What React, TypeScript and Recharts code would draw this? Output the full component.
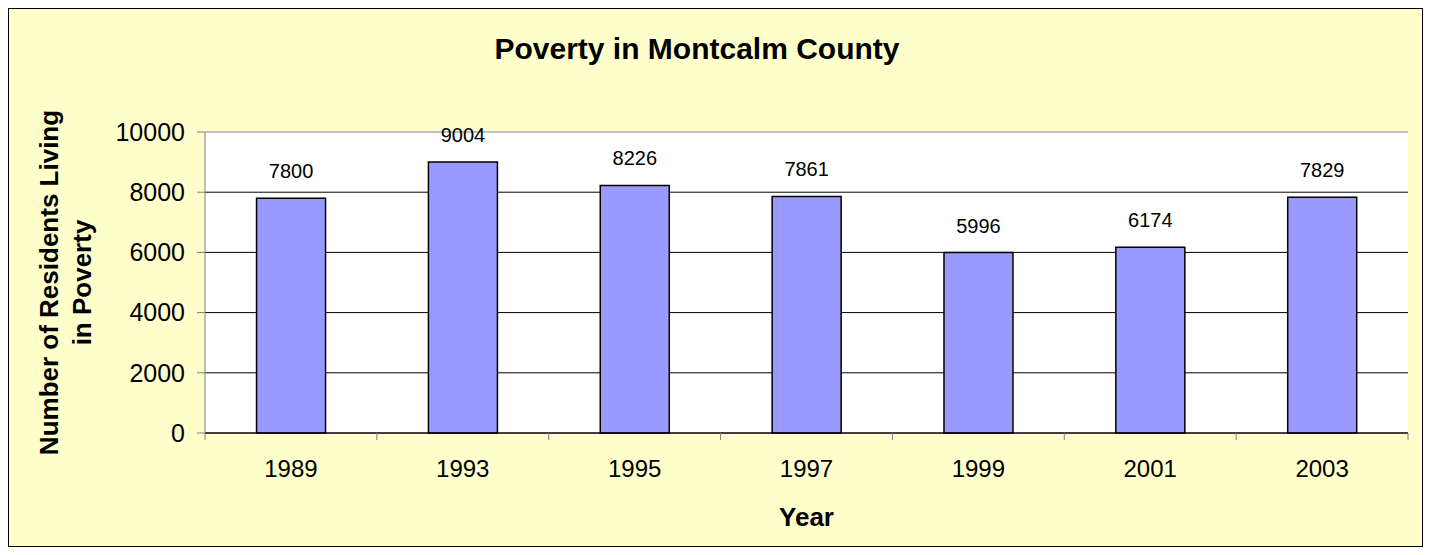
// Poverty in Montcalm County — bar chart with value labels on each bar.
import { BarChart, Bar, XAxis, YAxis, CartesianGrid, ReferenceLine, LabelList, Label } from 'recharts'

const YEARS = ['1989', '1993', '1995', '1997', '1999', '2001', '2003']
const RESIDENTS = [7800, 9004, 8226, 7861, 5996, 6174, 7829]
const Y_TICKS = [0, 2000, 4000, 6000, 8000, 10000]

const FONT = '"Liberation Sans", Arial, sans-serif'

const data = YEARS.map((year, i) => ({ year, value: RESIDENTS[i] }))

function YearTick(props: any) {
  const { x, y, payload, index, visibleTicksCount } = props
  const half = payload?.offset ?? 0
  return (
    <g>
      <line x1={x - half} x2={x - half} y1={y - 8} y2={y - 1} stroke="#808080" strokeWidth={1} />
      {index === visibleTicksCount - 1 && (
        <line x1={x + half} x2={x + half} y1={y - 8} y2={y - 1} stroke="#808080" strokeWidth={1} />
      )}
      <text x={x} y={y + 36} textAnchor="middle" fontSize={24} fill="#000" fontFamily={FONT}>
        {payload.value}
      </text>
    </g>
  )
}

function YTitle(props: any) {
  const { viewBox } = props
  const cy = viewBox.y + viewBox.height / 2
  return (
    <text transform={`translate(0, ${cy}) rotate(-90)`} textAnchor="middle" fontSize={26}
          fontWeight={700} fill="#000" fontFamily={FONT}>
      <tspan x={0} y={49}>Number of Residents Living</tspan>
      <tspan x={0} y={82}>in Poverty</tspan>
    </text>
  )
}

export default function App() {
  return (
    <div style={{
      position: 'relative', width: 1415, height: 539, boxSizing: 'border-box',
      border: '1px solid #000', background: '#FFFFCC', fontFamily: FONT,
    }}>
      <div style={{
        position: 'absolute', left: 388, width: 600, top: 23, textAlign: 'center',
        fontSize: 30, fontWeight: 700, color: '#000',
      }}>
        Poverty in Montcalm County
      </div>
      <BarChart width={1413} height={537} data={data} barCategoryGap="30%"
                margin={{ top: 123, right: 14, bottom: 0, left: 0 }}>
        <CartesianGrid fill="#fff" vertical={false} stroke="#000" />
        <ReferenceLine y={10000} stroke="#d8d8d8" strokeWidth={1.5} />
        <XAxis dataKey="year" height={113} stroke="#000" tickLine={false} tick={<YearTick />} interval={0}>
          <Label value="Year" position="insideBottom" offset={20} fontSize={26} fontWeight={700}
                 fill="#000" fontFamily={FONT} />
        </XAxis>
        <YAxis width={196} domain={[0, 10000]} ticks={Y_TICKS} stroke="#808080" tickSize={8} tickMargin={12}
               tick={{ fontSize: 25, fill: '#000', fontFamily: FONT }} interval={0}>
          <Label content={<YTitle />} />
        </YAxis>
        <Bar dataKey="value" fill="#9999FF" stroke="#000" strokeWidth={1.5} isAnimationActive={false}>
          <LabelList dataKey="value" position="top" offset={20} fontSize={20} fill="#000" fontFamily={FONT} />
        </Bar>
      </BarChart>
    </div>
  )
}
